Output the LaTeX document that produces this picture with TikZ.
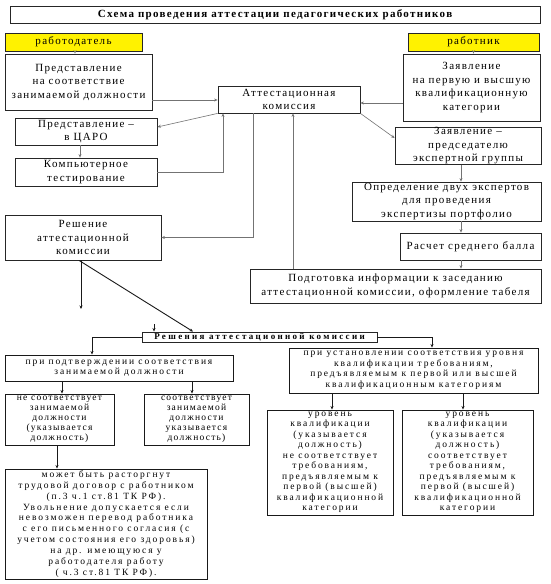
\documentclass[tikz,border=0pt]{standalone}
\usepackage{fontspec}
\setmainfont{Liberation Serif}
\newfontfamily\upf{Liberation Serif}[LetterSpace=12]
\newfontfamily\lowf{Liberation Serif}[LetterSpace=20]
\newfontfamily\lowsf{Liberation Serif}[LetterSpace=13]
\newfontfamily\ttlf{Liberation Serif}[LetterSpace=12]
\newfontfamily\rsf{Liberation Serif}[LetterSpace=26]
\usetikzlibrary{arrows.meta,calc}
\tikzset{
  box/.style={draw=black!85, line width=0.8pt, fill=white, inner sep=0pt, align=center,
    font=\upf\fontsize{11}{13.5}\selectfont},
  ybox/.style={box, fill=yellow},
  lbox/.style={box, line width=0.9pt, draw=black!90, font=\lowf\fontsize{9.5}{10.5}\selectfont},
  sbox/.style={lbox, font=\lowsf\fontsize{9.5}{10}\selectfont},
  conn/.style={draw=black!55, line width=0.6pt, -{Stealth[length=3.5pt,width=3pt]}},
  dconn/.style={draw=black!90, line width=0.7pt, -{Stealth[length=3.5pt,width=3pt]}},
}
\begin{document}
\begin{tikzpicture}[x=1pt,y=-1pt]
\useasboundingbox[fill=white] (0,0) rectangle (550,584);
% boxes
\node[box, minimum width=530pt, minimum height=17pt, font=\ttlf\bfseries\fontsize{11}{13}\selectfont] (title) at (275,14.5) {Схема проведения аттестации педагогических работников};
\node[ybox, minimum width=137pt, minimum height=18pt] (emp) at (73.5,42) {работодатель};
\node[ybox, minimum width=131pt, minimum height=18pt] (wrk) at (473.5,42) {работник};
\node[box, minimum width=147pt, minimum height=56pt] (p1) at (78.5,82) {Представление\\на соответствие\\занимаемой должности};
\node[box, minimum width=137pt, minimum height=67pt] (z1) at (471.5,87.5) {Заявление\\на первую и высшую\\квалификационную\\категории};
\node[box, minimum width=142pt, minimum height=27pt] (comm) at (289,99.5) {Аттестационная\\комиссия};
\node[box, minimum width=142pt, minimum height=27pt] (caro) at (86,131.5) {Представление –\\в ЦАРО};
\node[box, minimum width=142pt, minimum height=28pt] (comp) at (86,172) {Компьютерное\\тестирование};
\node[box, minimum width=156pt, minimum height=45pt] (resh) at (83,237.5) {Решение\\аттестационной\\комиссии};
\node[box, minimum width=146pt, minimum height=36pt] (z2) at (468,146) {Заявление –\\председателю\\экспертной группы};
\node[box, minimum width=189pt, minimum height=39pt] (opr) at (446.5,201.5) {Определение двух экспертов\\для проведения\\экспертизы портфолио};
\node[box, minimum width=141pt, minimum height=27pt] (rasch) at (470.5,246.5) {Расчет среднего балла};
\node[box, minimum width=291pt, minimum height=34pt] (podg) at (395.5,286) {Подготовка информации к заседанию\\аттестационной комиссии, оформление табеля};
\node[box, line width=0.9pt, minimum width=235pt, minimum height=10pt, font=\rsf\bfseries\fontsize{9}{9}\selectfont] (reshs) at (259.5,337) {Решения аттестационной комиссии};
\node[lbox, minimum width=228pt, minimum height=26pt] (pp) at (119,368) {при подтверждении соответствия\\занимаемой должности};
\node[sbox, minimum width=109pt, minimum height=51pt] (ns) at (59.5,419.5) {не соответствует\\занимаемой\\должности\\(указывается\\должность)};
\node[sbox, minimum width=105pt, minimum height=51pt] (ss) at (196.5,419.5) {соответствует\\занимаемой\\должности\\указывается\\должность)};
\node[lbox, minimum width=249pt, minimum height=45pt] (pu) at (413.5,370.5) {при установлении соответствия уровня\\квалификации требованиям,\\предъявляемым к первой или высшей\\квалификационным категориям};
\node[lbox, minimum width=126pt, minimum height=105pt] (u1) at (330,462.5) {уровень\\квалификации\\(указывается\\должность)\\не соответствует\\требованиям,\\предъявляемым к\\первой (высшей)\\квалификационной\\категории};
\node[lbox, minimum width=131pt, minimum height=105pt] (u2) at (467.5,462.5) {уровень\\квалификации\\(указывается\\должность)\\соответствует\\требованиям,\\предъявляемым к\\первой (высшей)\\квалификационной\\категории};
\node[lbox, minimum width=202pt, minimum height=110pt, font=\lowf\fontsize{9.5}{10.9}\selectfont] (mb) at (106,524) {может быть расторгнут\\трудовой договор с работником\\(п.3 ч.1 ст.81 ТК РФ).\\Увольнение допускается если\\невозможен перевод работника\\с его письменного согласия (с\\учетом состояния его здоровья)\\на др. имеющуюся у\\работодателя работу\\( ч.3 ст.81 ТК РФ).};
% helper coordinates
\coordinate (v75) at (75,0);
\coordinate (v80) at (80,0);
\coordinate (v223) at (223,0);
\coordinate (v253) at (253,0);
\coordinate (v293) at (293,0);
\coordinate (v461) at (461,0);
\coordinate (v81) at (81,0);
\coordinate (v79) at (79,0);
\coordinate (v193) at (193,0);
\coordinate (v92) at (92,0);
\coordinate (v432) at (432,0);
\coordinate (v62) at (62,0);
\coordinate (v192) at (192,0);
\coordinate (v332) at (332,0);
\coordinate (v463) at (463,0);
\coordinate (v57) at (57,0);
\coordinate (h100) at (0,100);
\coordinate (h103) at (0,103);
\coordinate (endA) at (81,309);
\coordinate (tk) at (154,324);
% upper connectors
\draw[conn] (v75 |- emp.south) -- (v75 |- p1.north);
\draw[conn] (wrk.south) -- (wrk.south |- z1.north);
\draw[conn] (h100 -| p1.east) -- (h100 -| comm.west);
\draw[conn] (h103 -| z1.west) -- (h103 -| comm.east);
\draw[conn] (comm.south west) -- ([yshift=4.5pt]caro.east);
\draw[conn] (v80 |- caro.south) -- (v80 |- comp.north);
\draw[conn] (comp.east) -| (v223 |- comm.south);
\draw[conn] (v253 |- comm.south) |- (resh.east);
\draw[conn] (v293 |- podg.north) -- (v293 |- comm.south);
\draw[conn] (comm.south east) -- ([yshift=8pt]z2.west);
\draw[conn] (v461 |- z2.south) -- (v461 |- opr.north);
\draw[conn] (v461 |- opr.south) -- (v461 |- rasch.north);
\draw[conn] (v461 |- rasch.south) -- (v461 |- podg.north);
% lower connectors
\draw[dconn] (v81 |- resh.south) -- (endA);
\draw[dconn, line width=0.9pt] (v79 |- resh.south) -- (v193 |- reshs.north);
\draw[dconn] (tk) -- (tk |- reshs.north);
\draw[dconn] (reshs.west) -| (v92 |- pp.north);
\draw[dconn] (reshs.east) -| (v432 |- pu.north);
\draw[dconn] (v62 |- pp.south) -- (v62 |- ns.north);
\draw[dconn] (v192 |- pp.south) -- (v192 |- ss.north);
\draw[dconn] (v332 |- pu.south) -- (v332 |- u1.north);
\draw[dconn] (v463 |- pu.south) -- (v463 |- u2.north);
\draw[dconn] (v57 |- ns.south) -- (v57 |- mb.north);
\end{tikzpicture}
\end{document}
